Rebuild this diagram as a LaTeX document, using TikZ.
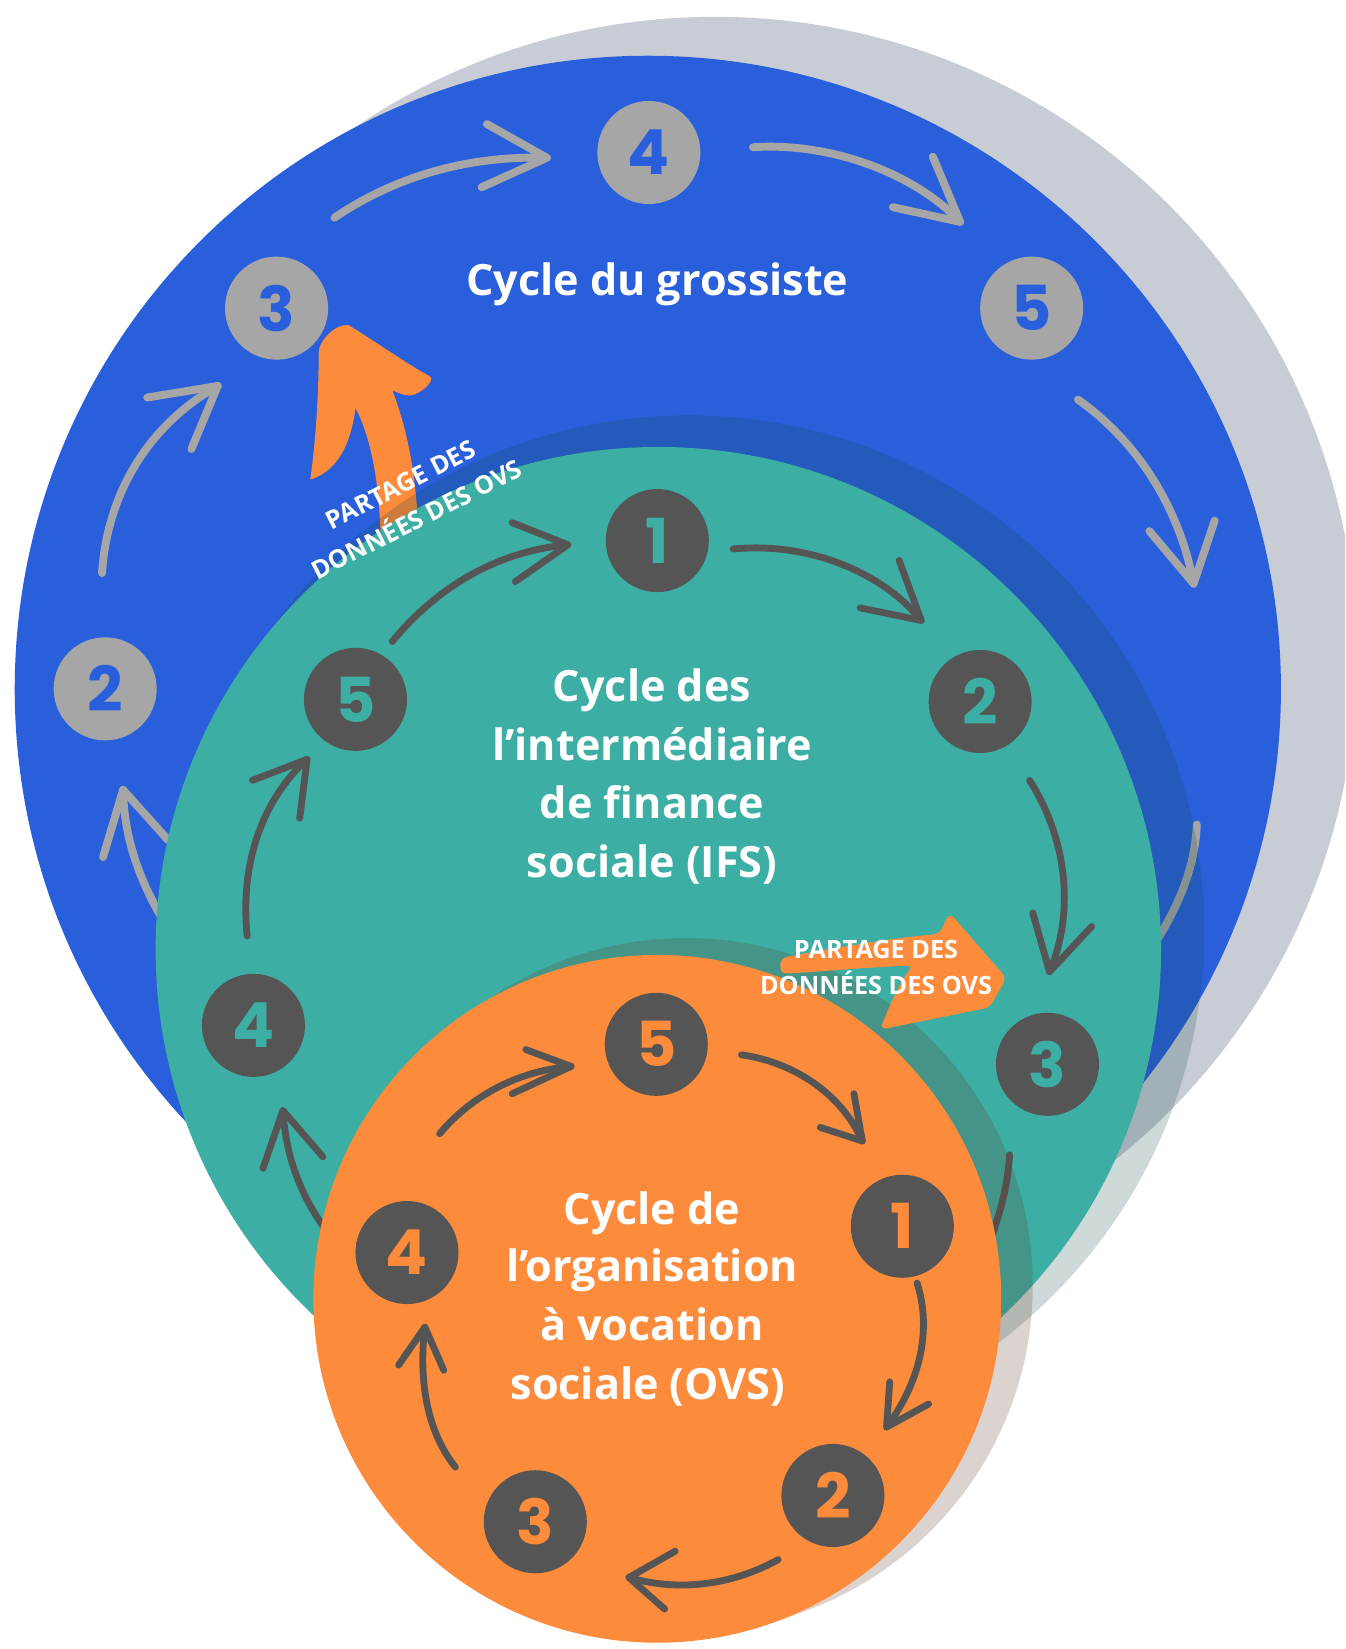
\documentclass[tikz,border=0pt]{standalone}
\usepackage{fontspec}
\setmainfont{Open Sans}
\newfontfamily\numfont{Poppins}
\definecolor{bluebg}{HTML}{2A5FDB}
\definecolor{shadowgrey}{HTML}{C8CCD5}
\definecolor{nodegrey}{HTML}{A6A6A6}
\definecolor{tealbg}{HTML}{3DAEA3}
\definecolor{orangebg}{HTML}{FD8B3C}
\definecolor{darknode}{HTML}{555555}
\definecolor{tealshade}{RGB}{10,70,65}
\definecolor{orangeshade}{RGB}{95,59,41}
\newcommand\hdarrow[7]{\draw[#1] #2 .. controls #3 and #4 .. #5; \draw[#1] #6 -- #5 -- #7;}
\begin{document}
\begin{tikzpicture}[x=1pt,y=-1pt,
  numbase/.style={circle,minimum size=98pt,inner sep=0pt,font=\numfont\bfseries\fontsize{59}{59}\selectfont},
  gnode/.style={numbase,fill=nodegrey,text=bluebg},
  tnode/.style={numbase,fill=darknode,text=tealbg},
  onode/.style={numbase,fill=darknode,text=orangebg},
  garrow/.style={draw=nodegrey,line width=7.5pt,line cap=round,line join=round},
  darrow/.style={draw=darknode,line width=6.5pt,line cap=round,line join=round},
  title/.style={text=white,font=\bfseries\fontsize{41}{41}\selectfont,anchor=base,inner sep=0pt},
  share/.style={text=white,font=\bfseries\fontsize{24}{24}\selectfont,inner sep=0pt}
]
\useasboundingbox (0,0) rectangle (1279,1568);
\clip (0,0) rectangle (1279,1568);
\fill[white] (0,0) rectangle (1279,1568);

% outer (wholesaler) circle
\fill[shadowgrey] (680,626) circle[radius=610pt];
\fill[bluebg] (616,655) circle[radius=602pt];

\node[gnode] (g2) at (100,655) {2};
\node[gnode] (g3) at (263,293) {3};
\node[gnode] (g4) at (617,145) {4};
\node[gnode] (g5) at (981,293) {5};

\hdarrow{garrow}{(318,207)}{(380,165)}{(450,148)}{(520,150)}{(463,118)}{(458,178)}
\hdarrow{garrow}{(716,140)}{(790,135)}{(870,165)}{(913,211)}{(887,149)}{(849,197)}
\hdarrow{garrow}{(1025,380)}{(1075,415)}{(1120,475)}{(1135,555)}{(1093,505)}{(1155,495)}
\draw[garrow] (1138,784) .. controls (1136,830) and (1118,870) .. (1080,925);
\hdarrow{garrow}{(175,905)}{(135,850)}{(118,800)}{(117,751)}{(98,815)}{(160,799)}
\hdarrow{garrow}{(97,545)}{(102,470)}{(140,405)}{(207,367)}{(140,378)}{(182,427)}

% orange sharing arrow (upper)
\fill[orangebg] (331,309) .. controls (350,320) and (385,345) .. (409,358)
  .. controls (414,362) and (400,375) .. (390,376)
  .. controls (383,376) and (377,373) .. (373,371)
  .. controls (388,410) and (398,460) .. (398,525) -- (362,525)
  .. controls (362,470) and (355,420) .. (338,388)
  .. controls (334,420) and (322,448) .. (295,456)
  .. controls (300,420) and (303,380) .. (303,335)
  .. controls (303,325) and (318,308) .. (331,309) -- cycle;

% IFS circle
\fill[tealshade,opacity=0.2] (655,885) circle[radius=490pt];
\fill[tealbg] (626,903) circle[radius=478pt];

\node[tnode] (t1) at (625,514) {1};
\node[tnode] (t2) at (932,667) {2};
\node[tnode] (t3) at (996,1012) {3};
\node[tnode] (t4) at (241,975) {4};
\node[tnode] (t5) at (338,665) {5};

\hdarrow{darrow}{(373,610)}{(410,565)}{(465,525)}{(540,518)}{(487,497)}{(490,553)}
\hdarrow{darrow}{(697,522)}{(770,515)}{(840,545)}{(876,590)}{(855,533)}{(818,578)}
\hdarrow{darrow}{(979,742)}{(1010,790)}{(1025,860)}{(998,924)}{(982,868)}{(1038,881)}
\draw[darrow] (960,1098) .. controls (958,1130) and (950,1160) .. (935,1195);
\hdarrow{darrow}{(235,890)}{(228,820)}{(250,760)}{(292,722)}{(240,742)}{(285,778)}
\hdarrow{darrow}{(310,1170)}{(285,1135)}{(272,1100)}{(269,1056)}{(250,1111)}{(307,1100)}

% OVS circle
\fill[orangeshade,opacity=0.22] (652,1222) circle[radius=330pt];
\fill[orangebg] (625,1235) circle[radius=327pt];

\node[onode] (o5) at (624,993) {5};
\node[onode] (o1) at (858,1166) {1};
\node[onode] (o2) at (792,1422) {2};
\node[onode] (o3) at (509,1447) {3};
\node[onode] (o4) at (387,1191) {4};

\hdarrow{darrow}{(418,1078)}{(450,1040)}{(495,1018)}{(543,1014)}{(500,998)}{(487,1040)}
\hdarrow{darrow}{(705,1003)}{(755,1010)}{(800,1040)}{(820,1085)}{(812,1040)}{(780,1072)}
\hdarrow{darrow}{(872,1220)}{(885,1260)}{(878,1310)}{(843,1357)}{(846,1314)}{(883,1335)}
\hdarrow{darrow}{(740,1483)}{(700,1505)}{(650,1515)}{(598,1500)}{(642,1475)}{(632,1530)}
\hdarrow{darrow}{(433,1395)}{(405,1360)}{(398,1310)}{(404,1262)}{(379,1298)}{(422,1303)}

% orange sharing arrow (right)
\fill[orangebg,rounded corners=6pt] (742,911) .. controls (800,900) and (850,892) .. (893,888)
  -- (903,868) -- (957,930) -- (941,958)
  -- (837,979) .. controls (845,958) and (855,935) .. (868,918)
  .. controls (820,920) and (780,924) .. (742,926) -- cycle;

% titles
\node[title] (w) at (625,281) {Cycle du grossiste};
\node[title] (i1) at (620,667) {Cycle des};
\node[title] (i2) at (620,723) {l’intermédiaire};
\node[title] (i3) at (620,778) {de finance};
\node[title] (i4) at (620,834) {sociale (IFS)};
\node[title] (v1) at (620,1164) {Cycle de};
\node[title] (v2) at (620,1219) {l’organisation};
\node[title] (v3) at (620,1275) {à vocation};
\node[title] (v4) at (616,1331) {sociale (OVS)};

\node[share,rotate=27] (s1) at (381,461) {PARTAGE DES};
\node[share,rotate=27] (s2) at (395,492) {DONNÉES DES OVS};
\node[share] (s3) at (833,903) {PARTAGE DES};
\node[share] (s4) at (833,935) {DONNÉES DES OVS};
\end{tikzpicture}
\end{document}
